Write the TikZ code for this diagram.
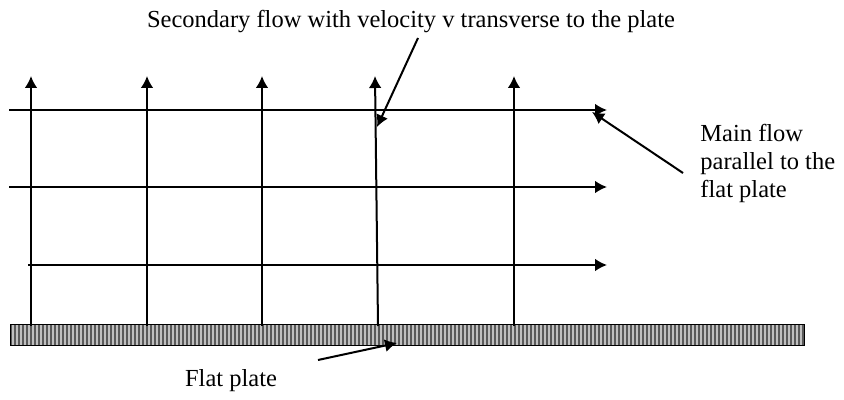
\documentclass[tikz,border=0pt]{standalone}
\usepackage{fontspec}
\setmainfont{Liberation Serif}
\usetikzlibrary{arrows.meta, positioning}

\begin{document}
\begin{tikzpicture}[x=0.5pt, y=-0.5pt, >={Latex[length=6pt,width=6.4pt]},
    flow/.style={line width=1pt},
    lbl/.style={font=\fontsize{12.25}{14}\selectfont, inner sep=0pt},
    plate/.style={fill=black!65, inner sep=0pt, minimum width=396.5pt, minimum height=10pt}]
    \useasboundingbox (0,0) rectangle (844,400);

    % --- Flat plate ---
    \node[plate] (plate) at (407.5,335) {};
    \foreach \x in {13,17,...,802}
        \draw[black!25, line width=0.8pt] (\x,325) -- (\x,345);
    \draw[line width=0.7pt] (plate.south west) rectangle (plate.north east);

    % --- Secondary flow (vertical) ---
    \foreach \i/\xb/\xt in {1/31/31, 2/147/147, 3/262/262, 4/378/375, 5/514/514} {
        \coordinate (vb\i) at (\xb,326);
        \coordinate (vt\i) at (\xt,76);
        \draw[flow, ->] (vb\i) -- (vt\i);
    }

    % --- Main flow (horizontal) ---
    \foreach \i/\xs/\y in {1/9/110, 2/9/187, 3/28/265} {
        \coordinate (hs\i) at (\xs,\y);
        \coordinate (he\i) at (607,\y);
        \draw[flow, ->] (hs\i) -- (he\i);
    }

    % --- Labels ---
    \node[lbl] (sec) at (411,22) {Secondary flow with velocity v transverse to the plate};
    \node[lbl, align=left, anchor=north west] (main) at (700,124) {Main flow\\parallel to the\\flat plate};
    \node[lbl] (flat) at (231,381) {Flat plate};

    % --- Pointers ---
    \coordinate (secfrom) at (418,38);
    \coordinate (secto) at (377,127);
    \draw[flow, ->] (secfrom) -- (secto);
    \coordinate (mainfrom) at (683,173);
    \coordinate (mainto) at (592,112);
    \draw[flow, ->] (mainfrom) -- (mainto);
    \coordinate (flatfrom) at (318,360);
    \coordinate (flatto) at (397,343);
    \draw[flow, ->] (flatfrom) -- (flatto);

\end{tikzpicture}
\end{document}
